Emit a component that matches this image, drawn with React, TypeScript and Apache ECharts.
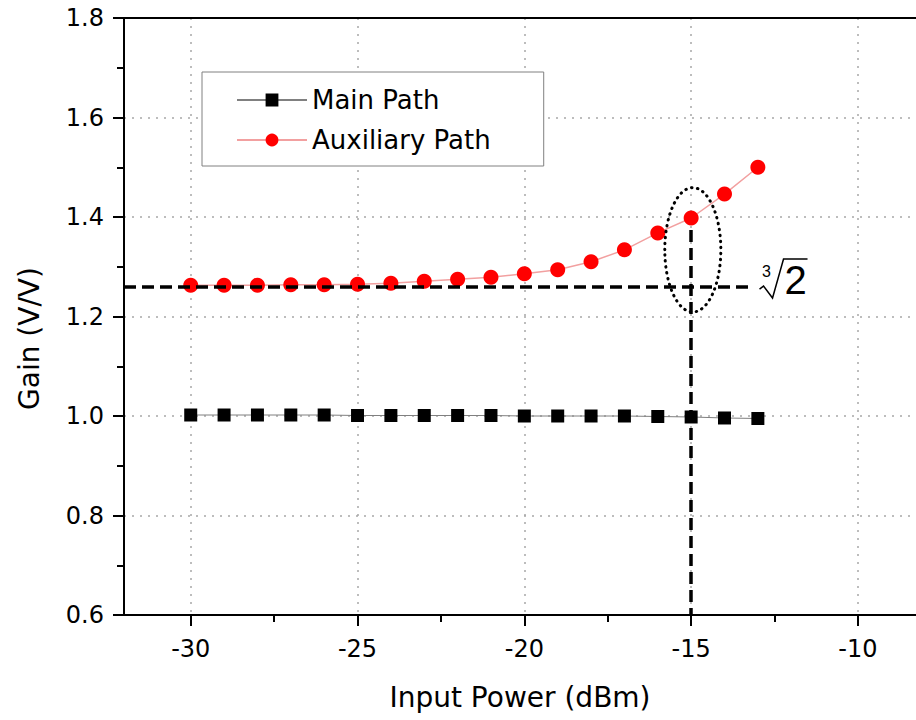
import React, { useEffect, useRef } from "react";
import * as echarts from "echarts";

const inputPower = [-30, -29, -28, -27, -26, -25, -24, -23, -22, -21, -20, -19, -18, -17, -16, -15, -14, -13];
const mainPath = [1.002, 1.002, 1.002, 1.002, 1.002, 1.001, 1.001, 1.001, 1.001, 1.001, 1.0, 1.0, 1.0, 1.0, 0.999, 0.998, 0.996, 0.995];
const auxPath = [1.263, 1.263, 1.263, 1.264, 1.264, 1.265, 1.267, 1.271, 1.275, 1.279, 1.286, 1.294, 1.31, 1.334, 1.368, 1.398, 1.446, 1.5];
const xMajorTicks = [-30, -25, -20, -15, -10];
const xMinorTicks = [-27.5, -22.5, -17.5, -12.5];
const seriesNames = ["Main Path", "Auxiliary Path"];
const xMin = -32;
const xMax = -8.26;
const cubeRootTwo = 1.26;
const hLineEndX = -13.25;
const markX = -15;
const vLineTopY = 1.374;
const vLineBottomY = 0.6;
const ellipseCenter = [-14.95, 1.334];
const ellipseRadius = [0.84, 0.125];

export default function App() {
  const ref = useRef<HTMLDivElement>(null);
  useEffect(() => {
    const chart = echarts.init(ref.current!, null, { renderer: "svg" });
    const font = "DejaVu Sans";
    const axisLineStyle = { color: "#000", width: 2 };
    const gridLine = { show: true, lineStyle: { color: "#a8a8a8", type: [2, 6], width: 1.5 } };
    chart.setOption({
      animation: false,
      backgroundColor: "#fff",
      grid: { left: 124, top: 18, right: 0, bottom: 105 },
      legend: {
        data: seriesNames,
        orient: "vertical",
        left: 202,
        top: 72,
        itemWidth: 70,
        itemHeight: 16,
        itemGap: 14,
        padding: [15, 53, 13, 34],
        backgroundColor: "#fff",
        borderColor: "#808080",
        borderWidth: 1,
        textStyle: { fontFamily: font, fontSize: 26, color: "#000" },
      },
      xAxis: [
        {
          type: "value",
          min: xMin,
          max: xMax,
          position: "bottom",
          name: "Input Power (dBm)",
          nameLocation: "middle",
          nameGap: 68,
          nameTextStyle: { fontFamily: font, fontSize: 28, color: "#000" },
          axisLine: { show: true, onZero: false, lineStyle: axisLineStyle },
          axisTick: { show: true, customValues: xMajorTicks, length: 11, lineStyle: axisLineStyle },
          axisLabel: { customValues: xMajorTicks, fontFamily: font, fontSize: 24, color: "#000", margin: 22 },
          splitLine: gridLine,
        },
        {
          type: "value",
          min: xMin,
          max: xMax,
          position: "bottom",
          axisLine: { show: false },
          axisTick: { show: true, customValues: xMinorTicks, length: 7, lineStyle: axisLineStyle },
          axisLabel: { show: false },
          splitLine: { show: false },
        },
        {
          type: "value",
          min: xMin,
          max: xMax,
          position: "top",
          axisLine: { show: true, onZero: false, lineStyle: axisLineStyle },
          axisTick: { show: false },
          axisLabel: { show: false },
          splitLine: { show: false },
        },
      ],
      yAxis: {
        type: "value",
        min: 0.6,
        max: 1.8,
        interval: 0.2,
        name: "Gain (V/V)",
        nameLocation: "middle",
        nameGap: 81,
        nameTextStyle: { fontFamily: font, fontSize: 28, color: "#000", padding: [0, 44, 0, 0] },
        axisLine: { show: true, onZero: false, lineStyle: axisLineStyle },
        axisTick: { show: true, length: 11, lineStyle: axisLineStyle },
        minorTick: { show: true, splitNumber: 2, length: 7, lineStyle: axisLineStyle },
        axisLabel: {
          fontFamily: font,
          fontSize: 24,
          color: "#000",
          margin: 20,
          formatter: (v: number) => v.toFixed(1),
        },
        splitLine: gridLine,
      },
      series: [
        {
          name: seriesNames[0],
          type: "line",
          xAxisIndex: 0,
          data: inputPower.map((x, i) => [x, mainPath[i]]),
          symbol: "rect",
          symbolSize: 13,
          itemStyle: { color: "#000" },
          lineStyle: { color: "#808080", width: 1 },
          z: 3,
        },
        {
          name: seriesNames[1],
          type: "line",
          xAxisIndex: 0,
          data: inputPower.map((x, i) => [x, auxPath[i]]),
          symbol: "circle",
          symbolSize: 15,
          itemStyle: { color: "#ff0000" },
          lineStyle: { color: "#f2a0a0", width: 1.5 },
          z: 3,
          markLine: {
            silent: true,
            symbol: ["none", "none"],
            label: { show: false },
            lineStyle: { color: "#000", width: 3.5, type: [12, 6] },
            emphasis: { disabled: true },
            data: [
              [{ coord: [xMin, cubeRootTwo] }, { coord: [hLineEndX, cubeRootTwo] }],
              [{ coord: [markX, vLineTopY] }, { coord: [markX, vLineBottomY] }],
            ],
          },
        },
        {
          type: "custom",
          xAxisIndex: 0,
          silent: true,
          z: 6,
          data: [ellipseCenter],
          renderItem: (params: any, api: any) => {
            const c = api.coord([api.value(0), api.value(1)]);
            const s = api.size([ellipseRadius[0], ellipseRadius[1]]);
            return {
              type: "ellipse",
              shape: { cx: c[0], cy: c[1], rx: s[0], ry: s[1] },
              style: { fill: "none", stroke: "#000", lineWidth: 3, lineDash: [0.5, 5.5], lineCap: "round" },
            };
          },
        },
        {
          type: "custom",
          xAxisIndex: 0,
          silent: true,
          z: 6,
          data: [[hLineEndX, cubeRootTwo]],
          renderItem: (params: any, api: any) => {
            const c = api.coord([api.value(0), api.value(1)]);
            return {
              type: "group",
              x: c[0],
              y: c[1],
              children: [
                {
                  type: "polyline",
                  shape: { points: [[10, 2.4], [14, -0.6], [23, 11.4], [34, -27.6], [58, -27.6]] },
                  style: { fill: "none", stroke: "#000", lineWidth: 1.5 },
                },
                {
                  type: "text",
                  style: { x: 17, y: -15.5, text: "3", fontFamily: "Liberation Sans", fontSize: 16, fill: "#000", align: "center", verticalAlign: "middle" },
                },
                {
                  type: "text",
                  style: { x: 46, y: -6.5, text: "2", fontFamily: "Liberation Sans", fontSize: 40, fill: "#000", align: "center", verticalAlign: "middle" },
                },
              ],
            };
          },
        },
      ],
    });
    return () => chart.dispose();
  }, []);
  return <div ref={ref} style={{ position: "fixed", left: 0, top: 0, width: 916, height: 720 }} />;
}
